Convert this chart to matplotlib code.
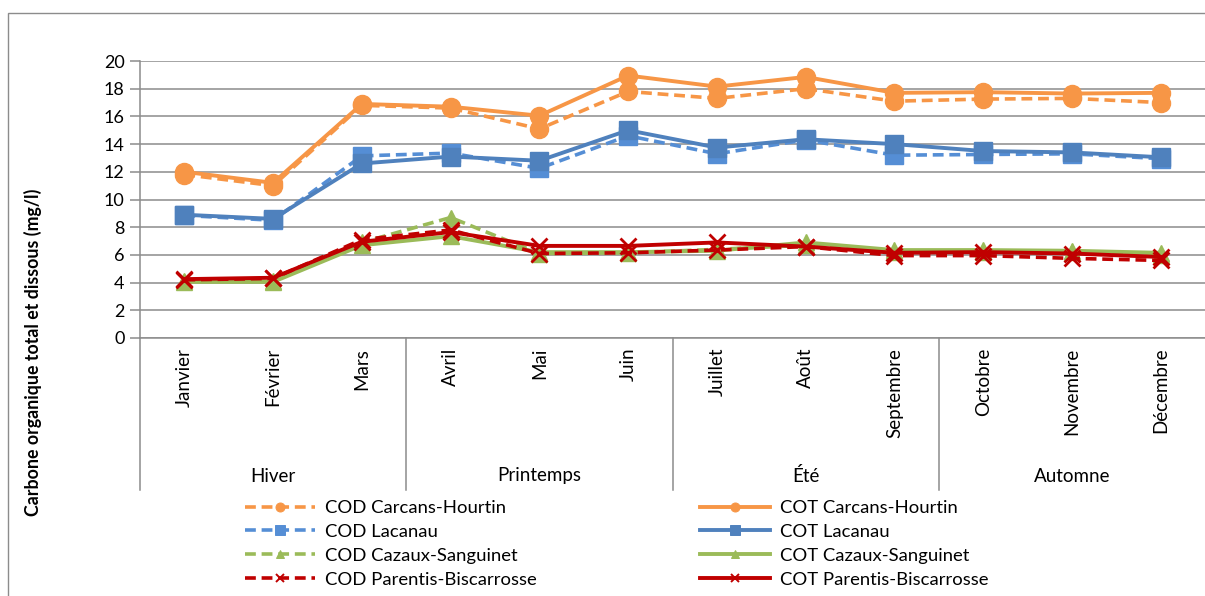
import matplotlib
matplotlib.use("Agg")
import matplotlib.pyplot as plt
from matplotlib.lines import Line2D
from matplotlib.patches import Rectangle
import matplotlib.transforms as mtransforms

plt.rcParams['font.family'] = ['Lato', 'DejaVu Sans']

months = ["Janvier", "Février", "Mars", "Avril", "Mai", "Juin", "Juillet",
          "Août", "Septembre", "Octobre", "Novembre", "Décembre"]
seasons = ["Hiver", "Printemps", "Été", "Automne"]
season_sizes = [3, 3, 3, 3]

cod_carcans = [11.8, 11.0, 16.8, 16.6, 15.1, 17.8, 17.3, 18.0, 17.1, 17.25, 17.3, 17.0]
cot_carcans = [12.0, 11.2, 16.9, 16.7, 16.05, 18.95, 18.15, 18.85, 17.7, 17.75, 17.65, 17.7]
cod_lacanau = [8.85, 8.5, 13.15, 13.35, 12.25, 14.6, 13.3, 14.3, 13.2, 13.25, 13.3, 12.95]
cot_lacanau = [8.9, 8.6, 12.6, 13.1, 12.8, 15.0, 13.75, 14.35, 14.0, 13.5, 13.4, 13.05]
cod_cazaux = [4.1, 4.1, 6.9, 8.7, 6.1, 6.15, 6.4, 6.7, 6.2, 6.2, 6.2, 6.0]
cot_cazaux = [4.05, 4.05, 6.7, 7.35, 6.2, 6.2, 6.3, 6.9, 6.35, 6.35, 6.3, 6.15]
cod_parentis = [4.2, 4.3, 7.1, 7.8, 6.1, 6.15, 6.35, 6.6, 5.95, 5.95, 5.75, 5.6]
cot_parentis = [4.25, 4.35, 6.95, 7.65, 6.65, 6.65, 6.9, 6.6, 6.15, 6.2, 6.1, 5.85]

labels_cod = ["COD Carcans-Hourtin", "COD Lacanau", "COD Cazaux-Sanguinet", "COD Parentis-Biscarrosse"]
labels_cot = ["COT Carcans-Hourtin", "COT Lacanau", "COT Cazaux-Sanguinet", "COT Parentis-Biscarrosse"]

W, H = 1205, 596
fig = plt.figure(figsize=(W / 100, H / 100), dpi=100)

# outer chart frame
fig.patches.append(Rectangle((8 / W, -0.1), 1.2, 1 - 13 / H + 0.1, transform=fig.transFigure,
                             fill=False, edgecolor="#8c8c8c", linewidth=1.0))

ax = fig.add_axes([140 / W, 1 - 338 / H, (W - 140) / W, (338 - 61) / H])

x = list(range(len(months)))
grid_c = "#8c8c8c"

series = [
    (cod_carcans, cot_carcans, "#F79646", "#F79646", "o", 13),
    (cod_lacanau, cot_lacanau, "#558ED5", "#4F81BD", "s", 13),
    (cod_cazaux, cot_cazaux, "#9BBB59", "#9BBB59", "^", 12),
    (cod_parentis, cot_parentis, "#C00000", "#C00000", "x", 12),
]

cod_handles, cot_handles = [], []
for cod, cot, c_dash, c_solid, mk, ms in series:
    mew = 2.0 if mk == "x" else 1.0
    ax.plot(x, cod, color=c_dash, linestyle=(0, (3, 1.6)), linewidth=2.6,
            marker=mk, markersize=ms, markeredgewidth=mew,
            markerfacecolor=c_dash, markeredgecolor=c_dash, zorder=3)
    ax.plot(x, cot, color=c_solid, linestyle="-", linewidth=2.8,
            marker=mk, markersize=ms, markeredgewidth=mew,
            markerfacecolor=c_solid, markeredgecolor=c_solid, zorder=3)
    cod_handles.append(Line2D([], [], color=c_dash, linestyle=(0, (3, 1.6)), linewidth=2.6,
                              marker=mk, markersize=ms * 0.5, markeredgewidth=mew * 0.7,
                              markerfacecolor=c_dash, markeredgecolor=c_dash))
    cot_handles.append(Line2D([], [], color=c_solid, linestyle="-", linewidth=2.8,
                              marker=mk, markersize=ms * 0.5, markeredgewidth=mew * 0.7,
                              markerfacecolor=c_solid, markeredgecolor=c_solid))

ax.set_xlim(-0.5, len(months) - 0.5)
ax.set_ylim(0, 20)
ax.set_yticks(range(0, 21, 2))
ax.yaxis.grid(True, color=grid_c, linewidth=1.1)
ax.set_axisbelow(True)
ax.tick_params(axis="y", length=7, width=1.1, color=grid_c, labelsize=13, pad=4)
for s in ["top", "right"]:
    ax.spines[s].set_visible(False)
ax.spines["left"].set_color(grid_c)
ax.spines["left"].set_linewidth(1.1)
ax.spines["bottom"].set_color(grid_c)
ax.spines["bottom"].set_linewidth(1.1)

ax.set_xticks(x)
ax.set_xticklabels(months, rotation=90, fontsize=13.5, va="top")
ax.tick_params(axis="x", length=0, pad=7)

# multi-level category axis: season separators and labels
trans = mtransforms.blended_transform_factory(ax.transData, ax.transAxes)
depth = -(490 - 338) / (338 - 61)
bounds = [-0.5]
for n in season_sizes:
    bounds.append(bounds[-1] + n)
for b in bounds[:-1]:
    ax.plot([b, b], [0, depth], transform=trans, color=grid_c, linewidth=1.1, clip_on=False)
for i, name in enumerate(seasons):
    cx = (bounds[i] + bounds[i + 1]) / 2
    ax.text(cx, -(476 - 338) / (338 - 61), name, transform=trans, ha="center", va="center",
            fontsize=13.5)

fig.text(33 / W, 1 - 352 / H, "Carbone organique total et dissous (mg/l)", rotation=90,
         ha="center", va="center", fontsize=12.8, fontweight="bold")

leg_kw = dict(frameon=False, fontsize=13.3, handlelength=3.8, labelspacing=0.43,
              handletextpad=0.55, borderpad=0, borderaxespad=0, loc="upper left")
fig.legend(cod_handles, labels_cod, bbox_to_anchor=(245 / W, 1 - 500 / H), **leg_kw)
fig.legend(cot_handles, labels_cot, bbox_to_anchor=(700 / W, 1 - 500 / H), **leg_kw)

fig.savefig("out.png", dpi=100)
